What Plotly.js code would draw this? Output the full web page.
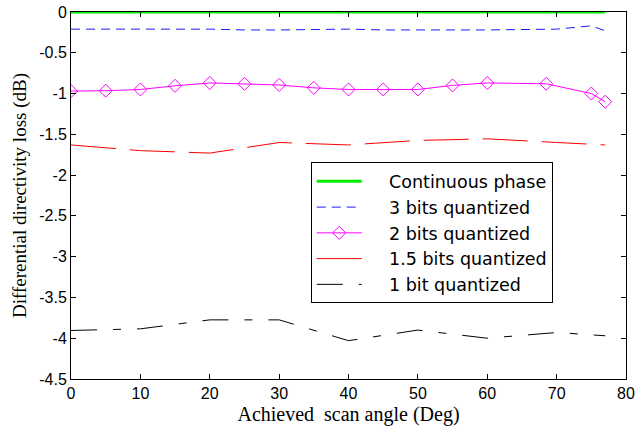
<!DOCTYPE html>
<html>
<head>
<meta charset="utf-8">
<script src="https://cdn.plot.ly/plotly-3.0.1.min.js"></script>
<style>html,body{margin:0;padding:0;background:#fff;}#chart{width:638px;height:427px;}</style>
</head>
<body>
<div id="chart"></div>
<script>
// Continuous phase
const contX = [0, 10, 20, 30, 40, 50, 60, 70, 77];
const contY = [0, 0, 0, 0, 0, 0, 0, 0, 0];
// 3 bits quantized
const bit3X = [0, 10, 20, 25, 30, 40, 45, 50, 60, 70, 75, 77];
const bit3Y = [-0.21, -0.21, -0.21, -0.22, -0.22, -0.21, -0.22, -0.22, -0.22, -0.21, -0.17, -0.23];
// 2 bits quantized
const bit2X = [0, 5, 10, 15, 20, 25, 30, 35, 40, 45, 50, 55, 60, 68.5, 75, 77];
const bit2Y = [-0.97, -0.965, -0.95, -0.905, -0.87, -0.88, -0.895, -0.93, -0.95, -0.95, -0.95, -0.9, -0.87, -0.88, -1.0, -1.1];
// 1.5 bits quantized
const bit15X = [0, 10, 15, 20, 30, 35, 40, 50, 60, 70, 77];
const bit15Y = [-1.63, -1.70, -1.715, -1.73, -1.60, -1.615, -1.63, -1.575, -1.555, -1.60, -1.63];
// 1 bit quantized
const bit1X = [0, 10, 20, 30, 40, 50, 60, 70, 77];
const bit1Y = [-3.905, -3.885, -3.775, -3.775, -4.03, -3.90, -4.0, -3.93, -3.97];

const names = ['Continuous phase', '3 bits quantized', '2 bits quantized', '1.5 bits quantized', '1 bit quantized'];
const yTickVals = [0, -0.5, -1, -1.5, -2, -2.5, -3, -3.5, -4, -4.5];
const yTickText = ['0', '-0.5', '-1', '-1.5', '-2', '-2.5', '-3', '-3.5', '-4', '-4.5'];
const xTickVals = [0, 10, 20, 30, 40, 50, 60, 70, 80];
const xTickText = ['0', '10', '20', '30', '40', '50', '60', '70', '80'];

const pad = '\u00a0\u00a0\u00a0\u00a0';
const traces = [
  {x: contX, y: contY, name: pad + names[0], mode: 'lines', line: {color: '#00ee00', width: 3}},
  {x: bit3X, y: bit3Y, name: pad + names[1], mode: 'lines', line: {color: '#1a1aff', width: 1, dash: '9px,6px'}},
  {x: bit2X, y: bit2Y, name: pad + names[2], mode: 'lines+markers', line: {color: '#ff00ff', width: 1},
   marker: {symbol: 'diamond-open', size: 10, color: '#ff00ff', line: {width: 1}}},
  {x: bit15X, y: bit15Y, name: pad + names[3], mode: 'lines', line: {color: '#ff0000', width: 1, dash: '45px,14px'}},
  {x: bit1X, y: bit1Y, name: pad + names[4], mode: 'lines', line: {color: '#000000', width: 1, dash: '26px,16px,8px,16px'}}
];

const axisCommon = {
  showline: true, linecolor: '#000', linewidth: 1, mirror: 'ticks',
  ticks: 'inside', ticklen: 5, tickcolor: '#000', showgrid: false, zeroline: false,
  tickfont: {family: 'Liberation Sans, Arial, sans-serif', size: 16, color: '#000'}
};

const layout = {
  width: 638, height: 427,
  margin: {l: 71, r: 12, t: 12, b: 48},
  paper_bgcolor: '#fff', plot_bgcolor: '#fff',
  showlegend: true,
  xaxis: Object.assign({}, axisCommon, {
    range: [0, 80], tickvals: xTickVals, ticktext: xTickText,
    title: {text: 'Achieved  scan angle (Deg)', standoff: 5,
            font: {family: 'Liberation Serif, Times New Roman, serif', size: 20, color: '#000'}}
  }),
  yaxis: Object.assign({}, axisCommon, {
    range: [-4.5, 0], tickvals: yTickVals, ticktext: yTickText,
    title: {text: 'Differential directivity loss (dB)', standoff: 7,
            font: {family: 'Liberation Serif, Times New Roman, serif', size: 19, color: '#000'}}
  }),
  legend: {
    x: 0.432, y: 0.59, xanchor: 'left', yanchor: 'top',
    bgcolor: '#fff', bordercolor: '#000', borderwidth: 1,
    itemwidth: 45, tracegroupgap: 0,
    font: {family: 'DejaVu Sans, sans-serif', size: 17.5, color: '#000'}
  }
};

Plotly.newPlot('chart', traces, layout, {displayModeBar: false, staticPlot: true});
</script>
</body>
</html>
